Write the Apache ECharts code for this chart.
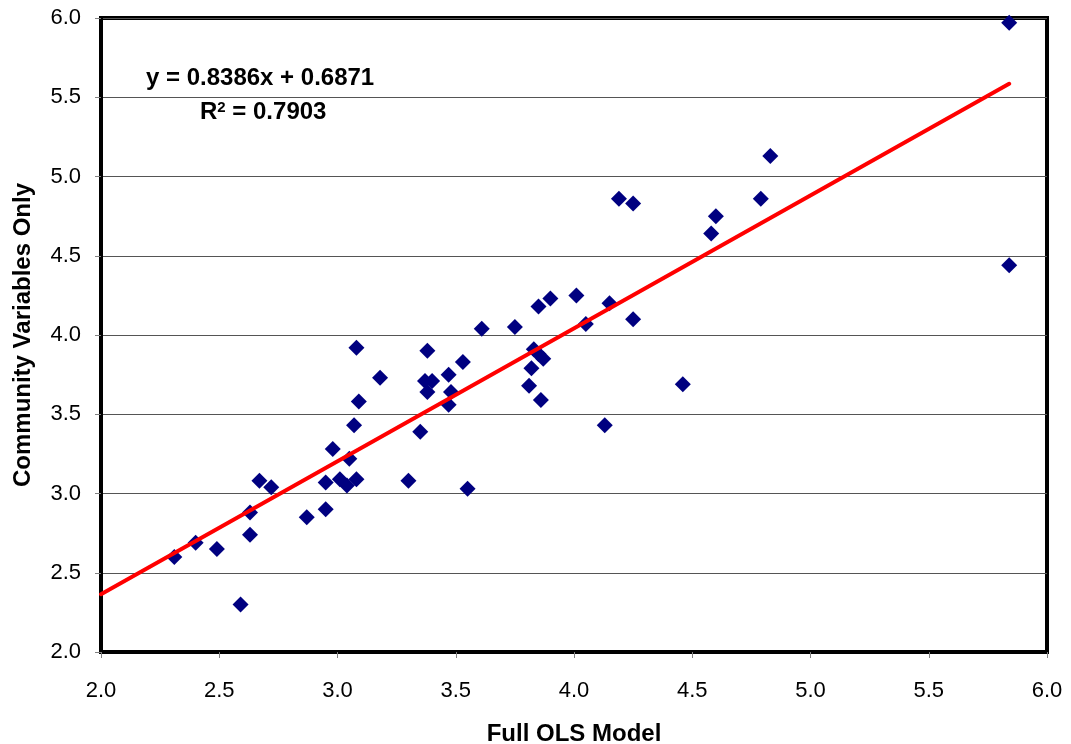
<!DOCTYPE html>
<html>
<head>
<meta charset="utf-8">
<script src="https://cdn.jsdelivr.net/npm/echarts@6/dist/echarts.min.js"></script>
<style>
  html, body { margin: 0; padding: 0; background: #fff; }
  #chart { width: 1071px; height: 744px; }
</style>
</head>
<body>
<div id="chart"></div>
<script>
// Full OLS model predictions (x) vs community-variables-only predictions (y)
var olsFull = [
  5.84, 5.84, 4.83, 4.79, 4.60, 4.58, 4.19, 4.25, 4.01, 3.90,
  3.85, 4.15, 4.05, 4.25, 3.75, 3.61, 3.83, 3.85, 3.87, 3.82,
  3.81, 3.86, 4.46, 4.13, 3.38, 3.53, 3.47, 3.37, 3.40, 3.38,
  3.48, 3.47, 3.35, 3.30, 3.55, 3.08, 3.18, 3.09, 3.07, 2.98,
  3.05, 2.67, 2.72, 2.95, 3.01, 3.04, 3.08, 2.63, 2.63, 2.87,
  2.95, 2.40, 2.49, 2.31, 2.59
];
var communityOnly = [
  5.97, 4.44, 5.13, 4.86, 4.75, 4.64, 4.86, 4.83, 4.25, 4.23,
  4.18, 4.20, 4.07, 4.10, 4.05, 4.04, 3.91, 3.88, 3.85, 3.79,
  3.68, 3.59, 3.69, 3.43, 3.90, 3.83, 3.75, 3.71, 3.71, 3.64,
  3.64, 3.56, 3.39, 3.08, 3.03, 3.92, 3.73, 3.58, 3.43, 3.28,
  3.22, 3.08, 3.04, 3.07, 3.09, 3.05, 3.09, 2.88, 2.74, 2.85,
  2.90, 2.69, 2.65, 2.60, 2.30
];
var trendSlope = 0.8386;
var trendIntercept = 0.6871;
var trendRange = [2.0, 5.84];
var r2 = '0.7903';

var font = '"Liberation Sans", Arial, sans-serif';

var points = olsFull.map(function (x, i) { return [x, communityOnly[i]]; });
var trend = trendRange.map(function (x) { return [x, trendSlope * x + trendIntercept]; });

var chart = echarts.init(document.getElementById('chart'));
var option = {
  backgroundColor: '#fff',
  animation: false,
  grid: {
    left: 101, right: 24, top: 18, bottom: 92,
    outerBoundsMode: 'none',
    containLabel: false,
    show: true, borderColor: '#000', borderWidth: 4, backgroundColor: '#fff'
  },
  xAxis: {
    type: 'value', min: 2, max: 6, interval: 0.5,
    name: 'Full OLS Model', nameLocation: 'middle', nameGap: 70,
    nameTextStyle: { fontFamily: font, fontSize: 24, fontWeight: 'bold', color: '#000' },
    axisLine: { show: true, lineStyle: { color: '#000', width: 4 } },
    axisTick: { show: true, length: 6, lineStyle: { color: '#808080' } },
    axisLabel: {
      margin: 28, fontFamily: font, fontSize: 22, color: '#000',
      formatter: function (v) { return v.toFixed(1); }
    },
    splitLine: { show: false }
  },
  yAxis: {
    type: 'value', min: 2, max: 6, interval: 0.5,
    name: 'Community Variables Only', nameLocation: 'middle', nameGap: 66,
    nameTextStyle: { fontFamily: font, fontSize: 24, fontWeight: 'bold', color: '#000' },
    axisLine: { show: true, lineStyle: { color: '#000', width: 4 } },
    axisTick: { show: true, length: 6, lineStyle: { color: '#808080' } },
    axisLabel: {
      margin: 20, fontFamily: font, fontSize: 22, color: '#000',
      formatter: function (v) { return v.toFixed(1); }
    },
    splitLine: { show: true, lineStyle: { color: '#555', width: 1 } }
  },
  graphic: [
    {
      type: 'text', left: 146, top: 66, z: 100,
      style: {
        text: 'y = ' + trendSlope + 'x + ' + trendIntercept,
        font: 'bold 24px ' + font, fill: '#000'
      }
    },
    {
      type: 'text', left: 200, top: 100, z: 100,
      style: {
        text: '{b|R}{s|2}{b| = ' + r2 + '}',
        rich: {
          b: { fontFamily: font, fontSize: 24, fontWeight: 'bold', fill: '#000', verticalAlign: 'bottom' },
          s: { fontFamily: font, fontSize: 15, fontWeight: 'bold', fill: '#000', verticalAlign: 'top' }
        }
      }
    }
  ],
  series: [
    {
      type: 'scatter',
      data: points,
      symbol: 'diamond',
      symbolSize: 16,
      itemStyle: { color: '#000080', opacity: 1 },
      z: 2
    },
    {
      type: 'line',
      data: trend,
      showSymbol: false,
      symbol: 'none',
      lineStyle: { color: '#ff0000', width: 4, cap: 'round' },
      z: 3
    }
  ]
};
chart.setOption(option);
</script>
</body>
</html>
